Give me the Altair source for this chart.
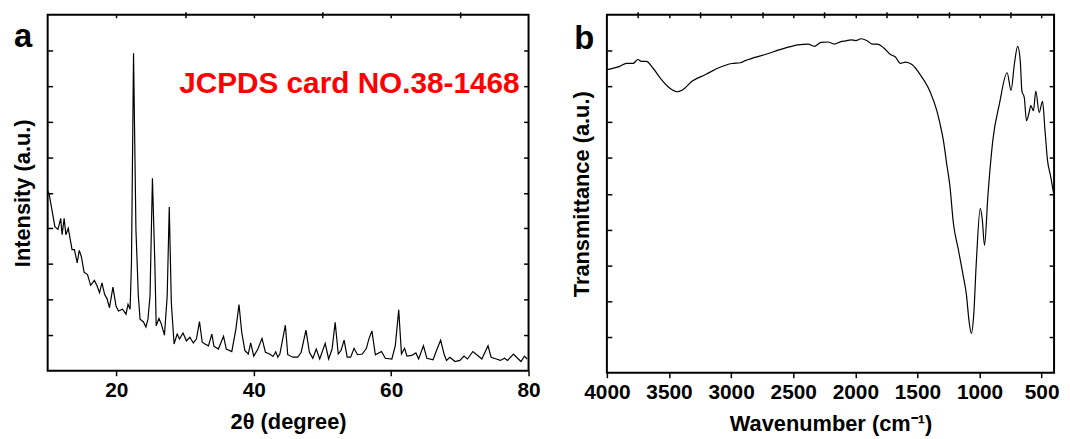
import altair as alt
import pandas as pd

# ---------------- Panel a: XRD ----------------
two_theta = [10.0, 10.2, 11.05, 11.5, 11.9, 12.1, 12.4, 12.65, 13.0, 13.55, 13.9, 14.3, 14.6, 14.9,
             15.3, 15.8, 16.25, 16.8, 17.2, 17.55, 17.9, 18.3, 18.65, 19.0, 19.5, 19.95, 20.3,
             20.9, 21.4, 21.7, 22.0, 22.2, 22.5, 22.85, 23.2, 23.45, 23.95, 24.3, 24.6, 24.9,
             25.25, 25.6, 25.8, 26.2, 26.55, 27.0, 27.4, 27.7, 28.0, 28.4, 28.85, 29.2, 29.7,
             30.2, 30.7, 31.2, 31.65, 32.1, 32.5, 32.9, 33.4, 33.9, 34.2, 34.85, 35.6, 36.0,
             36.8, 37.4, 37.85, 38.25, 38.7, 39.2, 39.55, 40.0, 40.6, 41.2, 41.7, 42.3, 42.8,
             43.2, 43.5, 43.8, 44.6, 44.95, 45.7, 46.4, 46.9, 47.6, 48.1, 48.6, 49.1, 49.6,
             50.4, 50.9, 51.4, 51.85, 52.3, 52.7, 53.15, 53.6, 54.1, 54.6, 55.1, 55.8, 56.4,
             56.75, 57.2, 57.7, 58.6, 59.15, 60.1, 60.6, 61.1, 61.5, 61.95, 62.3, 63.0, 63.6,
             64.0, 64.7, 65.2, 66.1, 66.6, 67.2, 67.7, 68.05, 68.55, 69.3, 70.0, 70.6, 71.1,
             71.9, 72.6, 73.2, 74.1, 74.55, 75.3, 75.9, 76.5, 76.95, 77.8, 78.4, 78.9, 79.4, 79.8]
intensity = [50.5, 49.8, 40.5, 39.7, 42.8, 38.2, 42.8, 38.2, 40.0, 34.0, 34.0, 30.3, 33.8, 32.1,
             27.7, 27.0, 24.0, 25.4, 23.8, 21.9, 24.7, 21.4, 20.2, 17.7, 23.5, 18.2, 16.8,
             17.3, 15.9, 18.7, 17.3, 30.4, 89.2, 39.6, 21.0, 14.5, 13.7, 12.3, 14.5, 21.0,
             54.1, 30.3, 12.6, 14.7, 13.1, 10.0, 21.0, 46.0, 19.1, 7.5, 10.3, 8.9, 10.6,
             8.4, 9.4, 7.8, 8.9, 13.8, 8.0, 7.5, 7.0, 10.3, 6.9, 6.1, 9.7, 6.1,
             5.4, 11.7, 18.6, 10.8, 5.7, 4.7, 7.8, 4.1, 6.1, 9.1, 5.2, 4.7, 4.0,
             5.3, 3.8, 4.7, 12.8, 4.5, 3.8, 3.8, 5.2, 11.4, 5.2, 3.5, 6.1, 3.3,
             7.7, 3.3, 6.1, 13.6, 4.7, 5.7, 8.6, 3.8, 3.8, 6.3, 4.5, 4.7, 6.3,
             8.9, 11.2, 4.5, 5.4, 3.5, 3.3, 7.0, 17.1, 4.7, 6.3, 4.1, 4.3, 5.0,
             3.3, 7.0, 3.5, 3.1, 5.7, 8.6, 4.7, 2.9, 3.8, 2.6, 2.9, 4.1, 3.3,
             5.4, 4.3, 3.3, 7.0, 3.8, 3.3, 2.9, 3.5, 2.9, 4.7, 3.5, 2.6, 4.1, 3.3]

xrd_major_ticks = [20, 40, 60, 80]
xrd_minor_ticks = [30, 50, 70]
xrd_top_ticks = [20, 30, 40, 50, 60, 70]
y_ticks = [10, 20, 30, 40, 50, 60, 70, 80, 90]

# ---------------- Panel b: FTIR ----------------
wavenumber = [4000, 3896, 3843, 3790, 3750, 3723, 3683, 3631, 3564, 3498, 3436, 3392, 3312, 3205,
              3099, 2993, 2926, 2886, 2726, 2567, 2461, 2381, 2328, 2275, 2222, 2168, 2116, 2076,
              2036, 1996, 1956, 1902, 1863, 1823, 1770, 1717, 1677, 1637, 1597, 1544, 1478, 1398,
              1344, 1318, 1291, 1265, 1238, 1211, 1171, 1132, 1105, 1084, 1066, 1047, 1026, 994,
              978, 960, 933, 893, 840, 778, 746, 720, 693, 672, 659, 640, 622, 601, 587, 566,
              547, 520, 493, 473, 453, 427, 400]
transmittance = [84.7, 85.6, 86.4, 86.4, 87.5, 87.0, 87.0, 85.2, 82.0, 79.6, 78.5, 79.0, 81.5, 83.3,
                 85.2, 86.4, 86.6, 87.2, 88.9, 90.7, 91.6, 91.8, 91.2, 92.3, 92.4, 91.8, 92.5, 92.7,
                 93.0, 92.8, 93.3, 92.7, 91.8, 91.8, 90.7, 88.9, 88.2, 86.4, 86.8, 86.1, 83.3, 78.5,
                 73.2, 69.5, 64.9, 58.5, 52.0, 41.9, 34.5, 27.2, 21.6, 14.3, 11.0, 16.1, 30.8, 45.9,
                 42.8, 35.6, 49.3, 64.9, 75.1, 83.8, 78.9, 86.1, 91.2, 87.0, 78.7, 76.9, 70.4, 72.7, 74.6, 73.2,
                 78.7, 72.7, 75.8, 67.7, 59.4, 54.8, 49.3]

ftir_major_ticks = [4000, 3500, 3000, 2500, 2000, 1500, 1000, 500]
ftir_minor_ticks = [3750, 3250, 2750, 2250, 1750, 1250, 750]
ftir_top_ticks = [3750, 3500, 3250, 3000, 2750, 2500, 2250, 2000, 1750, 1500, 1250, 1000, 750, 500]

panel_a_letter = ["a"]
panel_b_letter = ["b"]
card_label = ["JCPDS card NO.38-1468"]

FONT = "Liberation Sans"
LBL = 21
TTL = 22


def panel(df, xf, yf, xdomain, xmajor, xminor, xtop, xtitle, ytitle, w, h, interp, letter, extra=None):
    base = alt.Chart(df)
    xs = alt.Scale(domain=xdomain, nice=False, zero=False)
    ys = alt.Scale(domain=[0, 100], nice=False, zero=False)
    common = dict(grid=False, domain=False, tickColor="black", tickWidth=1.5,
                  labelFont=FONT, labelFontWeight="bold", labelFontSize=LBL, labelColor="black",
                  titleFont=FONT, titleFontWeight="bold", titleFontSize=TTL, titleColor="black")
    line_kwargs = dict(color="black", strokeWidth=1.2)
    if interp:
        line_kwargs["interpolate"] = interp
    order = alt.Order(f"{xf}:Q", sort="descending" if xdomain[0] > xdomain[1] else "ascending")
    main = base.mark_line(**line_kwargs).encode(
        x=alt.X(f"{xf}:Q", scale=xs, axis=alt.Axis(values=xmajor, tickSize=5, labelPadding=4, format="d",
                                                   title=xtitle, titlePadding=11, labelFlush=False, **common)),
        y=alt.Y(f"{yf}:Q", scale=ys, axis=alt.Axis(values=y_ticks, tickSize=5, offset=-5, labels=False,
                                                   title=ytitle, titlePadding=13, **common)),
        order=order,
    )
    minor = base.mark_line(strokeOpacity=0).encode(
        x=alt.X(f"{xf}:Q", scale=xs, axis=alt.Axis(values=xminor, tickSize=3, labels=False,
                                                   title=None, **common)),
        y=alt.Y(f"{yf}:Q", scale=ys, axis=alt.Axis(orient="right", values=y_ticks, tickSize=5, offset=-5,
                                                   labels=False, title=None, **common)),
        order=order,
    )
    top = base.mark_line(strokeOpacity=0).encode(
        x=alt.X(f"{xf}:Q", scale=xs, axis=alt.Axis(orient="top", values=xtop, tickSize=3, offset=-3,
                                                   labels=False, title=None, **common)),
        y=alt.Y(f"{yf}:Q", scale=ys, axis=None),
        order=order,
    )
    layers = [main, minor, top, letter]
    if extra is not None:
        layers.append(extra)
    return alt.layer(*layers).resolve_axis(x="independent", y="independent").properties(width=w, height=h)


xrd_df = pd.DataFrame({"two_theta": two_theta, "intensity": intensity})
ftir_df = pd.DataFrame({"wn": wavenumber, "T": transmittance})

letter_a = alt.Chart(pd.DataFrame({"t": panel_a_letter})).mark_text(
    font=FONT, fontWeight="bold", fontSize=33, color="black", align="left", baseline="alphabetic"
).encode(x=alt.value(-34), y=alt.value(32), text="t:N")
letter_b = alt.Chart(pd.DataFrame({"t": panel_b_letter})).mark_text(
    font=FONT, fontWeight="bold", fontSize=33, color="black", align="left", baseline="alphabetic"
).encode(x=alt.value(-33), y=alt.value(35), text="t:N")
card = alt.Chart(pd.DataFrame({"t": card_label})).mark_text(
    font=FONT, fontWeight="bold", fontSize=30, color="#ff0000", align="right", baseline="alphabetic"
).encode(x=alt.value(476), y=alt.value(79), text="t:N")

pa = panel(xrd_df, "two_theta", "intensity", [10, 80], xrd_major_ticks, xrd_minor_ticks, xrd_top_ticks,
           "2θ (degree)", "Intensity (a.u.)", 485, 359, None, letter_a, card)
pb = panel(ftir_df, "wn", "T", [4000, 400], ftir_major_ticks, ftir_minor_ticks, ftir_top_ticks,
           "Wavenumber (cm⁻¹)", "Transmittance (a.u.)", 451, 361, "monotone", letter_b)

chart = alt.hconcat(pa, pb, spacing=79, bounds="flush").properties(
    padding={"top": 0, "left": 2, "right": 2, "bottom": 2}
).configure(
    background="white"
).configure_view(stroke="black", strokeWidth=2)

chart.save("out.html", embed_options={"renderer": "svg", "actions": False})
